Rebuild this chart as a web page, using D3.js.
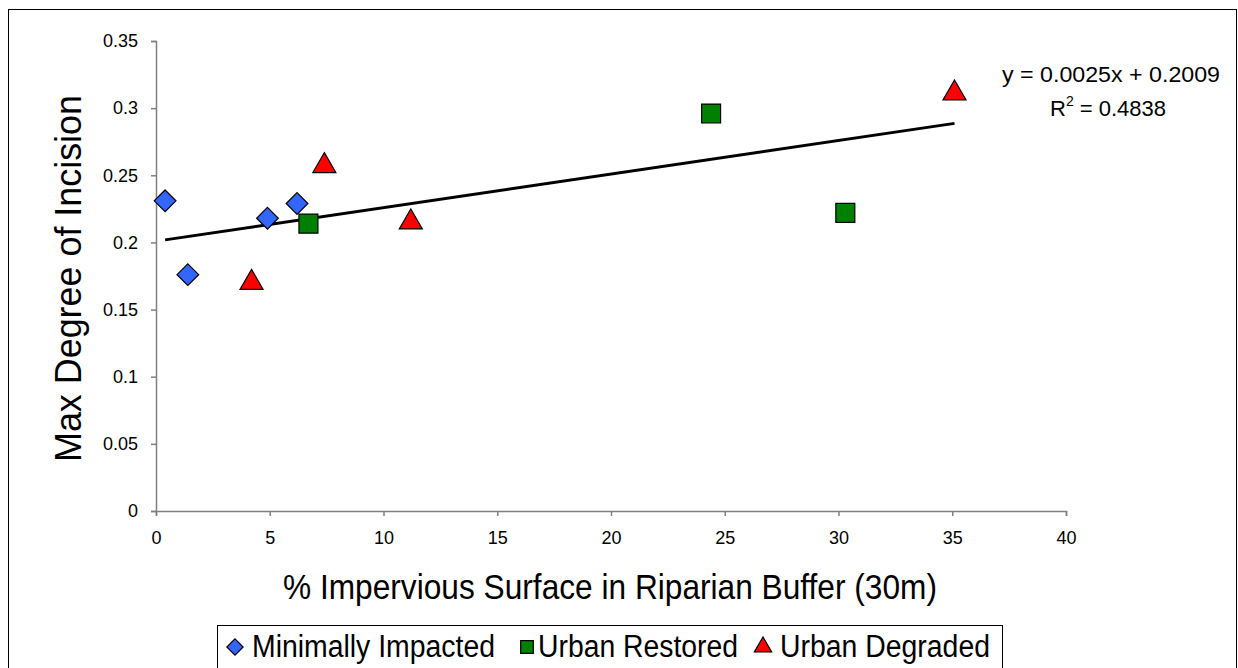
<!DOCTYPE html>
<html>
<head>
<meta charset="utf-8">
<script src="https://cdn.jsdelivr.net/npm/d3@7"></script>
<style>
  body { margin: 0; background: #fff; }
  svg text { font-family: "Liberation Sans", Arial, sans-serif; fill: #000; }
</style>
</head>
<body>
<svg id="chart" width="1238" height="668"></svg>
<script>
// series data
var minimallyX = [0.4, 1.4, 4.9, 6.2];
var minimallyY = [0.231, 0.176, 0.218, 0.229];
var restoredX = [6.7, 24.4, 30.3];
var restoredY = [0.214, 0.296, 0.222];
var degradedX = [4.2, 7.4, 11.2, 35.1];
var degradedY = [0.170, 0.257, 0.215, 0.311];
var xTicks = [0, 5, 10, 15, 20, 25, 30, 35, 40];
var yTicks = [0, 0.05, 0.1, 0.15, 0.2, 0.25, 0.3, 0.35];
var trendSlope = 0.0025, trendIntercept = 0.2009;
var trendRange = [0.4, 35.1];
var seriesNames = ["Minimally Impacted", "Urban Restored", "Urban Degraded"];

var svg = d3.select("#chart");

// outer frame
svg.append("rect")
    .attr("x", 8.5).attr("y", 9.5)
    .attr("width", 1228).attr("height", 670)
    .attr("fill", "none").attr("stroke", "#000").attr("stroke-width", 1);

var x = d3.scaleLinear().domain([0, 40]).range([156, 1066]);
var y = d3.scaleLinear().domain([0, 0.35]).range([511, 41]);

// axes
var xAxis = svg.append("g")
    .attr("transform", "translate(0,511)")
    .call(d3.axisBottom(x).tickValues(xTicks).tickSize(5).tickPadding(15)
        .tickFormat(d3.format("")));
var yAxis = svg.append("g")
    .attr("transform", "translate(156,0)")
    .call(d3.axisLeft(y).tickValues(yTicks).tickSize(5).tickPadding(13)
        .tickFormat(function(d) { return d === 0 ? "0" : String(+d.toFixed(2)); }));

[xAxis, yAxis].forEach(function(a) {
    a.select(".domain").attr("stroke", "#808080").attr("stroke-width", 1.5);
    a.selectAll(".tick line").attr("stroke", "#808080").attr("stroke-width", 1.5);
    a.selectAll(".tick text").attr("font-size", 18).attr("fill", "#000")
        .style("font-family", "'Liberation Sans', Arial, sans-serif");
});

// axis titles (condensed like the original)
svg.append("text")
    .attr("x", 283).attr("y", 599)
    .attr("font-size", 35)
    .attr("textLength", 654).attr("lengthAdjust", "spacingAndGlyphs")
    .text("% Impervious Surface in Riparian Buffer (30m)");
svg.append("text")
    .attr("transform", "translate(81,462) rotate(-90)")
    .attr("font-size", 37)
    .attr("textLength", 367).attr("lengthAdjust", "spacingAndGlyphs")
    .text("Max Degree of Incision");

// trend line
svg.append("line")
    .attr("x1", x(trendRange[0])).attr("y1", y(trendSlope * trendRange[0] + trendIntercept))
    .attr("x2", x(trendRange[1])).attr("y2", y(trendSlope * trendRange[1] + trendIntercept))
    .attr("stroke", "#000").attr("stroke-width", 3);

// marker shapes
var diamond = d3.symbol().type(d3.symbolDiamond2).size(300);
var square = d3.symbol().type(d3.symbolSquare).size(360);
var triangle = d3.symbol().type(d3.symbolTriangle).size(230);

function drawSeries(xs, ys, sym, color) {
    svg.append("g").selectAll("path")
        .data(xs.map(function(v, i) { return [v, ys[i]]; }))
        .enter().append("path")
        .attr("d", sym)
        .attr("transform", function(d) { return "translate(" + x(d[0]) + "," + y(d[1]) + ")"; })
        .attr("fill", color)
        .attr("stroke", "#000").attr("stroke-width", 1.2);
}
drawSeries(minimallyX, minimallyY, diamond, "#3366ff");
drawSeries(restoredX, restoredY, square, "#008000");
drawSeries(degradedX, degradedY, triangle, "#ff0000");

// equation label
svg.append("text").attr("x", 1002).attr("y", 82)
    .attr("font-size", 22)
    .attr("textLength", 218).attr("lengthAdjust", "spacingAndGlyphs")
    .text("y = 0.0025x + 0.2009");
var r2 = svg.append("text").attr("x", 1050).attr("y", 116)
    .attr("font-size", 22);
r2.append("tspan").text("R");
r2.append("tspan").attr("dy", -10).attr("font-size", 14).text("2");
r2.append("tspan").attr("dy", 10).text(" = 0.4838");

// legend
var legend = svg.append("g");
legend.append("rect")
    .attr("x", 217.5).attr("y", 625.5).attr("width", 785).attr("height", 60)
    .attr("fill", "#fff").attr("stroke", "#000").attr("stroke-width", 1);
var legendItems = [
    { name: seriesNames[0], sym: d3.symbol().type(d3.symbolDiamond2).size(170), color: "#3366ff", x: 235, tx: 252, w: 243 },
    { name: seriesNames[1], sym: d3.symbol().type(d3.symbolSquare).size(160), color: "#008000", x: 527, tx: 538, w: 200 },
    { name: seriesNames[2], sym: d3.symbol().type(d3.symbolTriangle).size(130), color: "#ff0000", x: 763, tx: 780, w: 210 }
];
legendItems.forEach(function(it) {
    legend.append("path").attr("d", it.sym)
        .attr("transform", "translate(" + it.x + ",647)")
        .attr("fill", it.color).attr("stroke", "#000").attr("stroke-width", 1.2);
    legend.append("text").attr("x", it.tx).attr("y", 657)
        .attr("font-size", 31)
        .attr("textLength", it.w).attr("lengthAdjust", "spacingAndGlyphs")
        .text(it.name);
});
</script>
</body>
</html>
